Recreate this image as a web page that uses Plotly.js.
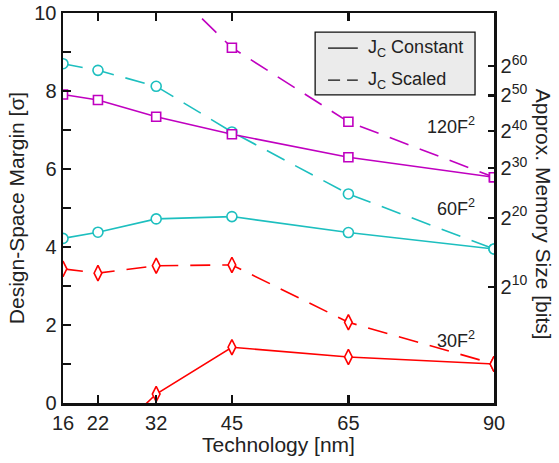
<!DOCTYPE html>
<html><head><meta charset="utf-8">
<script src="https://cdn.plot.ly/plotly-3.0.1.min.js"></script>
<style>body{margin:0;background:#fff}#chart{width:559px;height:463px}</style>
</head><body><div id="chart"></div>
<script>
const tech = [16, 22, 32, 45, 65, 90];
const xTicks = [16, 22, 32, 45, 65, 90];
// Design-space margin [sigma]
const f120Const = [7.91, 7.77, 7.34, 6.89, 6.30, 5.79];
const f120ScaledX = [32, 45, 65, 90];
const f120Scaled = [11.0, 9.11, 7.21, 5.79];
const f60Const = [4.22, 4.38, 4.72, 4.78, 4.37, 3.95];
const f60Scaled = [8.70, 8.53, 8.12, 6.95, 5.36, 3.95];
const f30ConstX = [22, 32, 45, 65, 90];
const f30Const = [-1.2, 0.23, 1.43, 1.18, 1.0];
const f30Scaled = [3.44, 3.33, 3.52, 3.54, 2.07, 1.0];
// right axis: memory size tick positions (sigma) and labels
const memTickVals = [2.98, 4.75, 6.02, 6.97, 7.89, 8.64];
const memTickText = ['2<sup>10</sup>','2<sup>20</sup>','2<sup>30</sup>','2<sup>40</sup>','2<sup>50</sup>','2<sup>60</sup>'];
const leftTickVals = [0,1,2,3,4,5,6,7,8,9,10];
const leftTickText = ['0','','2','','4','','6','','8','','10'];
const legendNames = ['J<sub>C</sub> Constant', 'J<sub>C</sub> Scaled'];
const areaLabels = ['120F<sup>2</sup>', '60F<sup>2</sup>', '30F<sup>2</sup>'];

const magenta = '#C000C0', cyan = '#1DBFBF', red = '#FF0000';
const dash = '20px,12px';
function tr(x, y, color, dashed, symbol, size) {
  return {x: x, y: y, type: 'scatter', mode: 'lines+markers', showlegend: false,
    line: {color: color, width: 1.6, dash: dashed ? dash : 'solid'},
    marker: {symbol: symbol, size: size, color: 'white', line: {color: color, width: 1.6}}};
}
const data = [
  tr(tech, f60Scaled, cyan, true, 'circle', 10),
  tr(tech, f60Const, cyan, false, 'circle', 10),
  tr(f120ScaledX, f120Scaled, magenta, true, 'square', 9),
  tr(tech, f120Const, magenta, false, 'square', 9),
  tr(tech, f30Scaled, red, true, 'diamond-tall', 11),
  tr(f30ConstX, f30Const, red, false, 'diamond-tall', 11),
  {x: [null], y: [null], type: 'scatter', mode: 'lines', showlegend: false, yaxis: 'y2', hoverinfo: 'skip'}
];
const font = {family: 'Liberation Sans, Arial, sans-serif', color: '#222', size: 20};
// legend box geometry (paper coords)
const lgX0 = 0.585, lgX1 = 0.956, lgY0 = 0.790, lgY1 = 0.951;
const lgRows = [0.910, 0.828];
const layout = {
  width: 559, height: 463,
  margin: {l: 63, r: 65, t: 13, b: 60},
  paper_bgcolor: 'white', plot_bgcolor: 'white',
  font: font,
  showlegend: false,
  xaxis: {range: [16, 90], tickvals: xTicks, ticks: 'inside', ticklen: 8, tickwidth: 2.5,
    tickcolor: '#111', showline: true, linewidth: 2.5, linecolor: '#111', mirror: 'ticks',
    showgrid: false, zeroline: false, tickfont: {size: 20},
    title: {text: 'Technology [nm]', font: {size: 21}, standoff: 2}},
  yaxis: {range: [0, 10], tickvals: leftTickVals, ticktext: leftTickText, ticks: 'inside',
    ticklen: 8, tickwidth: 2.5, tickcolor: '#111', showline: true, linewidth: 2.5, linecolor: '#111',
    showgrid: false, zeroline: false, tickfont: {size: 20},
    title: {text: 'Design-Space Margin [σ]', font: {size: 21}, standoff: 4}},
  yaxis2: {overlaying: 'y', side: 'right', range: [0, 10], tickvals: memTickVals, ticktext: memTickText,
    ticks: 'inside', ticklen: 6, tickwidth: 2.5, tickcolor: '#111', showline: true, linewidth: 2.5,
    linecolor: '#111', showgrid: false, zeroline: false, tickfont: {size: 20}},
  shapes: [
    {type: 'rect', xref: 'paper', yref: 'paper', x0: lgX0, x1: lgX1, y0: lgY0, y1: lgY1,
     fillcolor: '#ebebeb', line: {color: '#111', width: 1.3}},
    {type: 'line', xref: 'paper', yref: 'paper', x0: 0.615, x1: 0.684, y0: lgRows[0], y1: lgRows[0],
     line: {color: '#111', width: 1.3}},
    {type: 'line', xref: 'paper', yref: 'paper', x0: 0.615, x1: 0.684, y0: lgRows[1], y1: lgRows[1],
     line: {color: '#111', width: 1.3, dash: '12px,7px'}}
  ],
  annotations: [
    {text: legendNames[0], xref: 'paper', yref: 'paper', x: 0.703, y: lgRows[0], xanchor: 'left', yanchor: 'middle', showarrow: false, font: {size: 18}},
    {text: legendNames[1], xref: 'paper', yref: 'paper', x: 0.703, y: lgRows[1], xanchor: 'left', yanchor: 'middle', showarrow: false, font: {size: 18}},
    {text: areaLabels[0], xref: 'paper', yref: 'y', x: 0.96, y: 7.12, xanchor: 'right', showarrow: false, font: {size: 18}},
    {text: areaLabels[1], xref: 'paper', yref: 'y', x: 0.96, y: 5.02, xanchor: 'right', showarrow: false, font: {size: 18}},
    {text: areaLabels[2], xref: 'paper', yref: 'y', x: 0.96, y: 1.62, xanchor: 'right', showarrow: false, font: {size: 18}},
    {text: 'Approx. Memory Size [bits]', xref: 'paper', yref: 'paper', x: 1.114, y: 0.485, xanchor: 'center',
     yanchor: 'middle', textangle: 90, showarrow: false, font: {size: 21}}
  ]
};
Plotly.newPlot('chart', data, layout, {displayModeBar: false, staticPlot: true});
</script></body></html>
